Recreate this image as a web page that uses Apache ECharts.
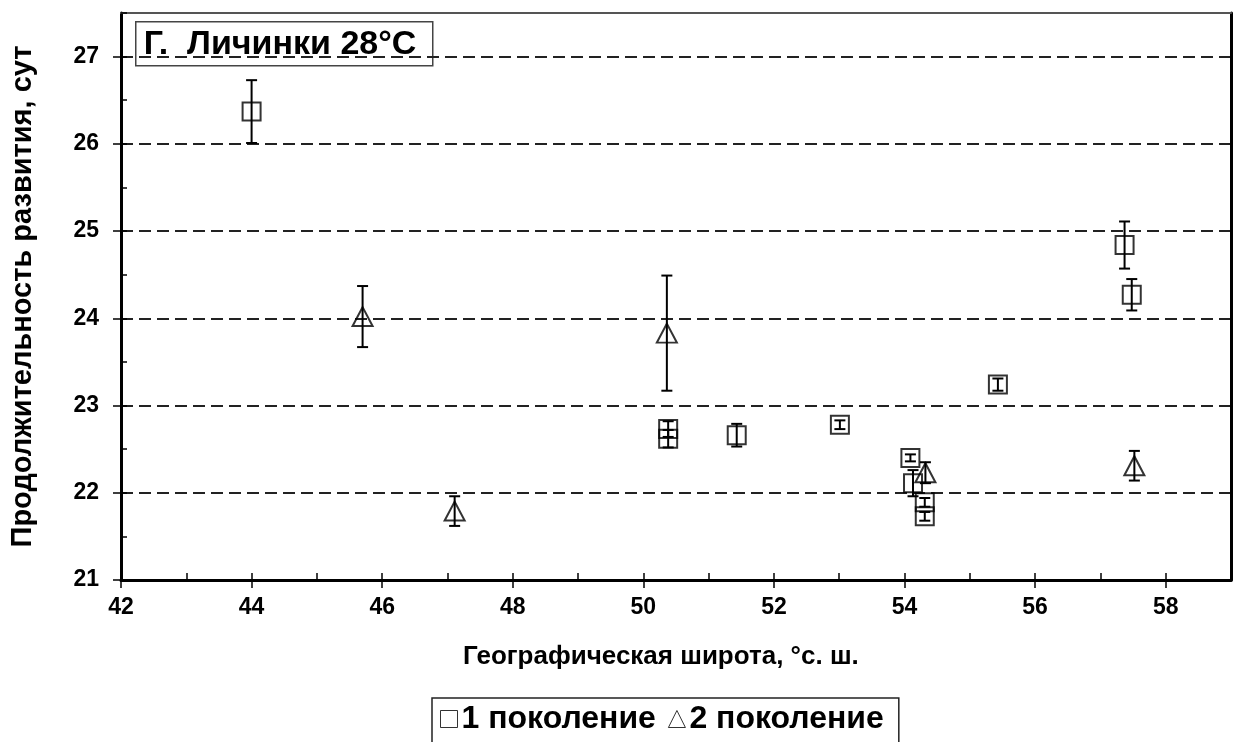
<!DOCTYPE html>
<html>
<head>
<meta charset="utf-8">
<script src="https://cdn.jsdelivr.net/npm/echarts@6/dist/echarts.min.js"></script>
<style>
  html, body { margin: 0; padding: 0; background: #fff; }
  #chart { width: 1235px; height: 742px; }
</style>
</head>
<body>
<div id="chart"></div>
<script>
// Latitude (°N) and development time (days) with error half-widths
const gen1Lat = [44.0, 50.38, 50.38, 51.43, 53.01, 54.09, 54.13, 54.31, 54.31, 55.43, 57.37, 57.48];
const gen1Days = [26.37, 22.73, 22.62, 22.66, 22.78, 22.40, 22.11, 21.89, 21.73, 23.24, 24.84, 24.27];
const gen1Err = [0.36, 0.09, 0.10, 0.13, 0.05, 0.04, 0.15, 0.05, 0.05, 0.07, 0.27, 0.18];

const gen2Lat = [45.70, 47.11, 50.36, 54.32, 57.52];
const gen2Days = [24.02, 21.79, 23.83, 22.23, 22.31];
const gen2Err = [0.35, 0.17, 0.66, 0.12, 0.17];

const xTicks = [42, 44, 46, 48, 50, 52, 54, 56, 58];
const yTicks = [21, 22, 23, 24, 25, 26, 27];

const FONT = 'Liberation Sans, Arial, sans-serif';

function pairs(xs, ys) { return xs.map((x, i) => [x, ys[i]]); }
function errRows(xs, ys, es) { return xs.map((x, i) => [x, ys[i], es[i]]); }

function renderErr(params, api) {
  const x = api.value(0), y = api.value(1), e = api.value(2);
  const top = api.coord([x, y + e]);
  const bot = api.coord([x, y - e]);
  const cap = 5.5;
  const style = { stroke: '#000', lineWidth: 2 };
  return {
    type: 'group',
    children: [
      { type: 'line', shape: { x1: top[0], y1: top[1], x2: bot[0], y2: bot[1] }, style },
      { type: 'line', shape: { x1: top[0] - cap, y1: top[1], x2: top[0] + cap, y2: top[1] }, style },
      { type: 'line', shape: { x1: bot[0] - cap, y1: bot[1], x2: bot[0] + cap, y2: bot[1] }, style }
    ]
  };
}

const chart = echarts.init(document.getElementById('chart'), null, { renderer: 'canvas' });

chart.setOption({
  animation: false,
  backgroundColor: '#fff',
  grid: { left: 121, right: 4, top: 13, bottom: 162, containLabel: false },
  xAxis: [
    {
      type: 'value', position: 'bottom', min: 42, max: 59, interval: 2,
      axisLine: { lineStyle: { color: '#000', width: 3 } },
      axisTick: { customValues: xTicks, inside: false, length: 8, lineStyle: { color: '#000', width: 1.5 } },
      axisLabel: { customValues: xTicks, margin: 16, color: '#000', fontFamily: FONT, fontWeight: 'bold', fontSize: 23 },
      splitLine: { show: false }
    },
    {
      type: 'value', position: 'bottom', min: 42, max: 59, interval: 1,
      axisLine: { show: false },
      axisTick: { inside: true, length: 7, lineStyle: { color: '#000', width: 1.5 } },
      axisLabel: { show: false },
      splitLine: { show: false }
    },
    {
      type: 'value', position: 'top', min: 42, max: 59,
      axisLine: { lineStyle: { color: '#555', width: 2 } },
      axisTick: { show: false }, axisLabel: { show: false }, splitLine: { show: false }
    }
  ],
  yAxis: [
    {
      type: 'value', position: 'left', min: 21, max: 27.5, interval: 1,
      name: 'Продолжительность развития, сут', nameLocation: 'middle', nameGap: 84,
      nameTextStyle: { color: '#000', fontFamily: FONT, fontWeight: 'bold', fontSize: 29 },
      axisLine: { lineStyle: { color: '#000', width: 3 } },
      axisTick: { customValues: yTicks, inside: false, length: 8, lineStyle: { color: '#000', width: 1.5 } },
      axisLabel: { customValues: yTicks, margin: 22, color: '#000', fontFamily: FONT, fontWeight: 'bold', fontSize: 23 },
      splitLine: { show: true, lineStyle: { color: '#222', width: 2, type: [12, 6] } }
    },
    {
      type: 'value', position: 'left', min: 21, max: 27.5, interval: 0.5,
      axisLine: { show: false },
      axisTick: { inside: true, length: 6, lineStyle: { color: '#000', width: 1.5 } },
      axisLabel: { show: false },
      splitLine: { show: false }
    },
    {
      type: 'value', position: 'right', min: 21, max: 27.5,
      axisLine: { show: true, lineStyle: { color: '#000', width: 3 } },
      axisTick: { show: false }, axisLabel: { show: false }, splitLine: { show: false }
    }
  ],
  legend: {
    left: 432, top: 698,
    orient: 'horizontal',
    padding: [5, 15, 40, 8],
    itemGap: 12,
    itemWidth: 17, itemHeight: 17,
    borderColor: '#222', borderWidth: 1.5,
    backgroundColor: '#fff',
    itemStyle: { color: 'transparent', borderColor: '#000', borderWidth: 1 },
    textStyle: { color: '#000', fontFamily: FONT, fontWeight: 'bold', fontSize: 32, padding: [0, 0, 0, -1] },
    data: [
      { name: '1 поколение', icon: 'rect' },
      { name: '2 поколение', icon: 'triangle' }
    ]
  },
  graphic: [
    {
      type: 'text', left: 463, top: 644, z: 100,
      style: { text: 'Географическая широта, °с. ш.', fill: '#000', font: 'bold 26px ' + FONT }
    },
    {
      type: 'group', left: 135, top: 21, z: 100,
      children: [
        { type: 'rect', shape: { x: 0, y: 0, width: 297, height: 44 },
          style: { fill: '#fff', stroke: '#444', lineWidth: 1.5 } },
        { type: 'text', x: 8, y: 23,
          style: { text: 'Г.  Личинки 28°C', fill: '#000', font: 'bold 34px ' + FONT, verticalAlign: 'middle' } }
      ]
    }
  ],
  series: [
    {
      name: '1 поколение-err', type: 'custom', xAxisIndex: 0, yAxisIndex: 0, z: 3,
      renderItem: renderErr, data: errRows(gen1Lat, gen1Days, gen1Err), silent: true
    },
    {
      name: '2 поколение-err', type: 'custom', xAxisIndex: 0, yAxisIndex: 0, z: 3,
      renderItem: renderErr, data: errRows(gen2Lat, gen2Days, gen2Err), silent: true
    },
    {
      name: '1 поколение', type: 'scatter', xAxisIndex: 0, yAxisIndex: 0, z: 4,
      symbol: 'rect', symbolSize: 18,
      itemStyle: { color: 'transparent', borderColor: '#000', borderWidth: 2 },
      data: pairs(gen1Lat, gen1Days)
    },
    {
      name: '2 поколение', type: 'scatter', xAxisIndex: 0, yAxisIndex: 0, z: 4,
      symbol: 'triangle', symbolSize: [20, 19],
      itemStyle: { color: 'transparent', borderColor: '#000', borderWidth: 2 },
      data: pairs(gen2Lat, gen2Days)
    }
  ]
});
</script>
</body>
</html>
